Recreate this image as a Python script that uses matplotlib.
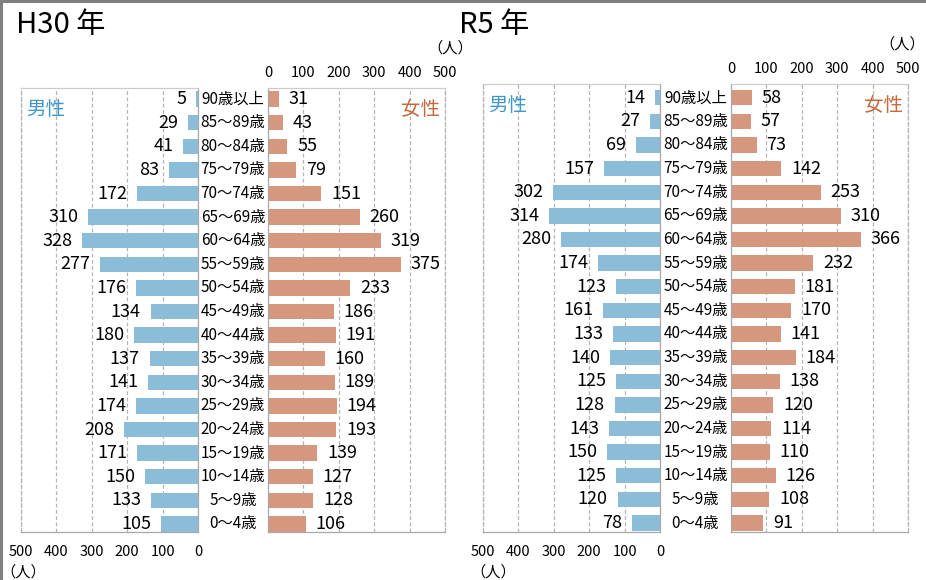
import numpy as np
import matplotlib.pyplot as plt
from matplotlib.lines import Line2D
from matplotlib.transforms import blended_transform_factory

plt.rcParams['font.family'] = ['Noto Sans CJK JP', 'DejaVu Sans']

ages = ['90歳以上', '85～89歳', '80～84歳', '75～79歳', '70～74歳', '65～69歳',
        '60～64歳', '55～59歳', '50～54歳', '45～49歳', '40～44歳', '35～39歳',
        '30～34歳', '25～29歳', '20～24歳', '15～19歳', '10～14歳', '5～9歳', '0～4歳']

h30_male = [5, 29, 41, 83, 172, 310, 328, 277, 176, 134, 180, 137, 141, 174, 208, 171, 150, 133, 105]
h30_female = [31, 43, 55, 79, 151, 260, 319, 375, 233, 186, 191, 160, 189, 194, 193, 139, 127, 128, 106]
r5_male = [14, 27, 69, 157, 302, 314, 280, 174, 123, 161, 133, 140, 125, 128, 143, 150, 125, 120, 78]
r5_female = [58, 57, 73, 142, 253, 310, 366, 232, 181, 170, 141, 184, 138, 120, 114, 110, 126, 108, 91]

ticks = [0, 100, 200, 300, 400, 500]

MALE_C = '#8bbdd9'
FEMALE_C = '#d5987e'
MALE_TXT = '#3d97cc'
FEMALE_TXT = '#c5693d'
GRID_C = '#b4b4b4'
EDGE_C = '#a8a8a8'

W, H = 926, 580
fig = plt.figure(figsize=(W / 100, H / 100), dpi=100)


def px(x0, y0, w, h):
    # pixel box (top-left origin) -> figure fraction rect
    return [x0 / W, 1 - (y0 + h) / H, w / W, h / H]


def style_axis(ax, outer):
    ax.set_xlim(0, 500)
    ax.set_xticks(ticks)
    ax.set_yticks([])
    ax.grid(axis='x', color=GRID_C, linestyle=(0, (3, 2)), linewidth=0.9)
    ax.set_axisbelow(True)
    ax.tick_params(axis='x', length=0, labelsize=10.5)
    for s in ax.spines.values():
        s.set_color(EDGE_C)
        s.set_linewidth(0.9)
    ax.spines['top'].set_color('#cccccc')
    ax.spines[outer].set_linestyle((0, (3, 2)))
    ax.spines[outer].set_color(GRID_C)


def pyramid(title, title_x, male, female, xm, xf, top, ylim):
    n = len(ages)
    y = np.arange(n)[::-1]
    box_h = 532 - top

    axm = fig.add_axes(px(xm, top, 177, box_h))
    axf = fig.add_axes(px(xf, top, 177, box_h))

    axm.barh(y, male, height=0.65, color=MALE_C)
    axf.barh(y, female, height=0.65, color=FEMALE_C)

    style_axis(axm, 'left')
    style_axis(axf, 'right')
    axm.invert_xaxis()
    axm.tick_params(axis='x', pad=9)
    axf.xaxis.tick_top()
    axf.tick_params(axis='x', pad=6)
    axm.set_ylim(*ylim)
    axf.set_ylim(*ylim)

    for yi, v in zip(y, male):
        axm.annotate(str(v), (v, yi), xytext=(-7, 0), textcoords='offset points',
                     ha='right', va='center', fontsize=13)
    for yi, v in zip(y, female):
        axf.annotate(str(v), (v, yi), xytext=(7, 0), textcoords='offset points',
                     ha='left', va='center', fontsize=13)

    # age group labels centred in the gap between the two halves
    tr = blended_transform_factory(fig.transFigure, axm.transData)
    mid = (xm + 177 + xf) / 2 / W
    for yi, a in zip(y, ages):
        axm.text(mid, yi, a, transform=tr, ha='center', va='center', fontsize=11)

    axm.text(0.03, 0.975, '男性', transform=axm.transAxes, ha='left', va='top',
             fontsize=14, color=MALE_TXT)
    axf.text(0.97, 0.975, '女性', transform=axf.transAxes, ha='right', va='top',
             fontsize=14, color=FEMALE_TXT)

    fig.text(title_x / W, 1 - 25 / H, title, ha='left', va='center', fontsize=21)
    return axm, axf


pyramid('H30 年', 16, h30_male, h30_female, 21, 268, 88, (-0.34, 18.47))
pyramid('R5 年', 459, r5_male, r5_female, 483, 731, 84, (-0.38, 18.58))

# unit labels
fig.text(450 / W, 1 - 48 / H, '（人）', ha='center', va='center', fontsize=11)
fig.text(925 / W, 1 - 44 / H, '（人）', ha='right', va='center', fontsize=11)
fig.text(0 / W, 1 - 572 / H, '（人）', ha='left', va='center', fontsize=11)
fig.text(470 / W, 1 - 572 / H, '（人）', ha='left', va='center', fontsize=11)

# outer frame (top and left edges only)
fig.add_artist(Line2D([0, 1], [1 - 1 / H, 1 - 1 / H], transform=fig.transFigure,
                      color='#7f7f7f', linewidth=2.2))
fig.add_artist(Line2D([1 / W, 1 / W], [0, 1], transform=fig.transFigure,
                      color='#7f7f7f', linewidth=2.2))

fig.savefig('out.png', dpi=100)
